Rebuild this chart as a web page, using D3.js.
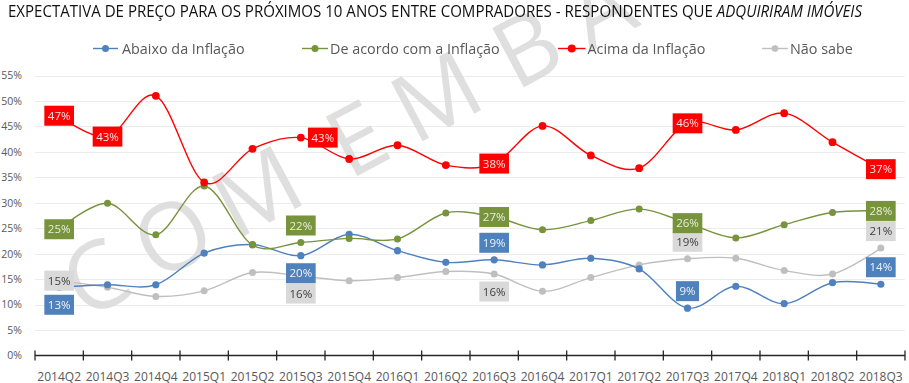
<!DOCTYPE html>
<html><head><meta charset="utf-8">
<script src="https://cdn.jsdelivr.net/npm/d3@7/dist/d3.min.js"></script>
<style>
html,body{margin:0;padding:0;background:#fff;}
svg{display:block;font-family:"Open Sans","Noto Sans",sans-serif;}
</style></head>
<body><svg id="c" width="909" height="383"></svg>
<script>
const categories = ["2014Q2","2014Q3","2014Q4","2015Q1","2015Q2","2015Q3","2015Q4","2016Q1","2016Q2","2016Q3","2016Q4","2017Q1","2017Q2","2017Q3","2017Q4","2018Q1","2018Q2","2018Q3"];
const abaixo   = [13.4,13.9,13.9,20.1,21.8,19.6,23.8,20.6,18.3,18.8,17.8,19.1,17.0, 9.3,13.6,10.2,14.3,14.0];
const deAcordo = [24.8,29.9,23.7,33.3,21.7,22.2,23.0,22.9,28.0,27.2,24.7,26.5,28.8,26.0,23.1,25.7,28.1,28.4];
const acima    = [47.1,43.0,51.0,34.0,40.6,42.8,38.6,41.3,37.4,37.7,45.1,39.3,36.8,45.6,44.3,47.6,41.9,36.6];
const naoSabe  = [14.7,13.4,11.6,12.7,16.3,15.6,14.7,15.3,16.5,16.0,12.6,15.3,17.8,19.0,19.1,16.7,16.0,21.1];
const seriesNames = ["Abaixo da Inflação","De acordo com a Inflação","Acima da Inflação","Não sabe"];
const yTicks = [0,5,10,15,20,25,30,35,40,45,50,55];
const titleMain = "EXPECTATIVA DE PREÇO PARA OS PRÓXIMOS 10 ANOS ENTRE COMPRADORES - RESPONDENTES QUE ";
const titleItalic = "ADQUIRIRAM IMÓVEIS";
const watermark = "COMEMBA";

const svg = d3.select("#c");
const x = d3.scaleBand().domain(categories).range([35,905]).padding(0);
const y = d3.scaleLinear().domain([0,55]).range([355.5,75.5]);
const cx = c => x(c) + x.bandwidth()/2;

// gridlines
svg.append("g").selectAll("line").data(yTicks.filter(d=>d>0)).join("line")
  .attr("x1",35).attr("x2",905).attr("y1",d=>Math.round(y(d))+0.5).attr("y2",d=>Math.round(y(d))+0.5)
  .attr("stroke","#ececec").attr("stroke-width",1);

// watermark
const wm = svg.append("g").attr("fill","#dcdcdc").attr("opacity",0.9);
const wmSteps = [0,88,183,296,386,489,572];
const ang = -28*Math.PI/180;
watermark.split("").forEach((ch,i)=>{
  const px = 95 + Math.cos(ang)*wmSteps[i], py = 277 + Math.sin(ang)*wmSteps[i];
  wm.append("text").attr("transform",`translate(${px},${py}) rotate(-28)`)
    .attr("text-anchor","middle").attr("dy","0.36em")
    .style("font-size","94px").text(ch);
});

// y axis labels
const yAxis = d3.axisLeft(y).tickValues(yTicks).tickFormat(d=>d+"%").tickSize(0).tickPadding(0);
const gy = svg.append("g").attr("transform","translate(22,0)").call(yAxis);
gy.select(".domain").remove();
gy.selectAll("text").attr("fill","#595959").style("font-size","10.5px").style("font-family","'Open Sans'");

// x axis
const xAxis = d3.axisBottom(x).tickSize(0).tickPadding(0);
const gx = svg.append("g").attr("transform","translate(0,355.5)").call(xAxis);
gx.select(".domain").remove();
gx.selectAll("text").attr("fill","#595959").attr("dy",null).attr("y",25).style("font-size","12px").style("font-family","'Open Sans'");
svg.append("line").attr("x1",35).attr("x2",905).attr("y1",355.5).attr("y2",355.5).attr("stroke","#262626").attr("stroke-width",1.3);
const bounds = categories.map(c=>x(c)).concat([x.range()[1]]);
svg.append("g").selectAll("line").data(bounds).join("line")
  .attr("x1",d=>d).attr("x2",d=>d).attr("y1",350.5).attr("y2",360.5)
  .attr("stroke","#262626").attr("stroke-width",1.3);

// series
const series = [
  {name:seriesNames[3], vals:naoSabe, color:"#bfbfbf", r:3.5, box:"#d9d9d9", txt:"#404040",
   labels:[[0,"c"],[5,"b"],[9,"b"],[13,"a"],[17,"a"]]},
  {name:seriesNames[0], vals:abaixo, color:"#4f81bd", r:3.6, box:"#4f81bd", txt:"#eef3fa",
   labels:[[0,"b"],[5,"b"],[9,"a"],[13,"a"],[17,"a"]]},
  {name:seriesNames[1], vals:deAcordo, color:"#77933c", r:3.5, box:"#77933c", txt:"#e8eedb",
   labels:[[0,"c"],[5,"a"],[9,"c"],[13,"c"],[17,"c"]]},
  {name:seriesNames[2], vals:acima, color:"#ff0000", r:3.9, box:"#ff0000", txt:"#ffe5e5",
   labels:[[0,"c"],[1,"c"],[5,"r"],[9,"c"],[13,"c"],[17,"c"]]}
];
const line = d3.line().x((d,i)=>cx(categories[i])).y(d=>y(d)).curve(d3.curveCardinal.tension(0));
series.forEach(s=>{
  const g = svg.append("g");
  g.append("path").attr("d",line(s.vals)).attr("fill","none").attr("stroke",s.color).attr("stroke-width",1.4);
  g.selectAll("circle").data(s.vals).join("circle")
    .attr("cx",(d,i)=>cx(categories[i])).attr("cy",d=>y(d)).attr("r",s.r).attr("fill",s.color);
});
// data labels on top
const off = {c:[0,0], a:[0,-17], b:[0,17.5], r:[22,0]};
series.forEach(s=>{
  const g = svg.append("g");
  s.labels.forEach(([i,p])=>{
    const v = s.vals[i];
    const px = cx(categories[i]) + off[p][0], py = y(v) + off[p][1];
    const t = g.append("text").attr("x",px).attr("y",py).attr("text-anchor","middle").attr("dy","0.36em")
      .attr("fill",s.txt).style("font-size","11.5px").text(Math.round(v)+"%");
    const w = t.node().getComputedTextLength() + 7;
    g.insert("rect","text").attr("x",px-w/2).attr("y",py-10).attr("width",w).attr("height",20).attr("fill",s.box);
  });
});

// title
const title = svg.append("text").attr("x",8).attr("y",17).attr("fill","#111").style("font-size","16.5px")
  .attr("textLength",854).attr("lengthAdjust","spacingAndGlyphs");
title.append("tspan").text(titleMain);
title.append("tspan").style("font-style","italic").text(titleItalic);

// legend
const legendItems = [
  {name:seriesNames[0], color:"#4f81bd", x1:93, x2:118, tx:122, r:3.5},
  {name:seriesNames[1], color:"#77933c", x1:302, x2:328, tx:330, r:3.5},
  {name:seriesNames[2], color:"#ff0000", x1:558, x2:585.5, tx:587.5, r:4},
  {name:seriesNames[3], color:"#bfbfbf", x1:762, x2:788, tx:790, r:3.3}
];
const lg = svg.append("g");
legendItems.forEach(d=>{
  lg.append("line").attr("x1",d.x1).attr("x2",d.x2).attr("y1",48.5).attr("y2",48.5).attr("stroke",d.color).attr("stroke-width",1.4);
  lg.append("circle").attr("cx",(d.x1+d.x2)/2).attr("cy",48.5).attr("r",d.r).attr("fill",d.color);
  d.t = lg.append("text").attr("x",d.tx).attr("y",54).attr("fill","#595959").style("font-size","14px").text(d.name);
});
const al = legendItems[2].t.node().getComputedTextLength();
const fs = 14*118/al;
legendItems.forEach(d=>d.t.style("font-size",fs+"px"));
</script></body></html>
